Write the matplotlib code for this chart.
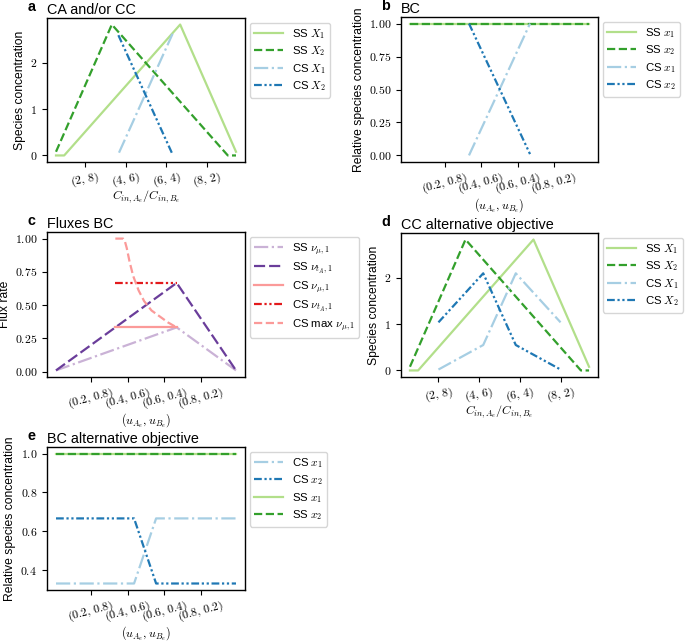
"""Five-panel species / flux comparison figure (SS vs CS)."""

import matplotlib

matplotlib.use("Agg")

import matplotlib.pyplot as plt
from matplotlib.ticker import FuncFormatter

plt.rcParams["font.family"] = ["Liberation Sans", "DejaVu Sans"]
plt.rcParams["mathtext.fontset"] = "cm"
plt.rcParams["axes.linewidth"] = 1.0

# Colours (Paired palette)
LIGHT_GREEN = "#b2df8a"
GREEN = "#33a02c"
LIGHT_BLUE = "#a6cee3"
BLUE = "#1f78b4"
PINK = "#fb9a99"
RED = "#e31a1c"
LIGHT_PURPLE = "#cab2d6"
PURPLE = "#6a3d9a"

DASH_DOT_DOT = (0, (3.5, 1.2, 1, 1.2, 1, 1.2))

# ---- panel a / d : concentration ratio axis ----
c_ticks = [2, 4, 6, 8]
c_ticklabels = [r"$(2,\,8)$", r"$(4,\,6)$", r"$(6,\,4)$", r"$(8,\,2)$"]

ss_X1_x = [0.6, 1.0, 6.67, 9.4]
ss_X1_y = [0.0, 0.0, 2.83, 0.08]
ss_X2_x = [0.6, 3.33, 9.0, 9.4]
ss_X2_y = [0.08, 2.83, 0.0, 0.0]

a_cs_X1_x = [3.68, 6.3]
a_cs_X1_y = [0.06, 2.63]
a_cs_X2_x = [3.65, 6.27]
a_cs_X2_y = [2.6, 0.05]

d_cs_X1_x = [2.0, 4.2, 5.8, 8.0]
d_cs_X1_y = [0.02, 0.55, 2.1, 1.04]
d_cs_X2_x = [2.0, 4.2, 5.8, 8.0]
d_cs_X2_y = [1.04, 2.1, 0.55, 0.02]

# ---- panel b / c / e : uptake axis ----
u_ticks = [0.2, 0.4, 0.6, 0.8]
u_ticklabels = [r"$(0.2,\,0.8)$", r"$(0.4,\,0.6)$", r"$(0.6,\,0.4)$", r"$(0.8,\,0.2)$"]

u_full = [0.01, 0.99]
b_ss_x1 = [1.0, 1.0]
b_ss_x2 = [1.0, 1.0]
b_cs_x = [0.333, 0.667]
b_cs_x1 = [0.0, 1.0]
b_cs_x2 = [1.0, 0.01]

c_ss_x = [0.01, 0.667, 0.99]
c_ss_nu_mu = [0.01, 0.333, 0.01]
c_ss_nu_tA = [0.01, 0.667, 0.01]
c_cs_x = [0.333, 0.667]
c_cs_nu_mu = [0.333, 0.333]
c_cs_nu_tA = [0.667, 0.667]
c_cs_max_x = [0.333, 0.375, 0.385, 0.395, 0.41, 0.43, 0.46, 0.49, 0.53, 0.58, 0.62, 0.667]
c_cs_max_y = [1.0, 1.0, 0.98, 0.93, 0.83, 0.72, 0.61, 0.53, 0.46, 0.41, 0.37, 0.333]

e_cs_x = [0.01, 0.435, 0.555, 0.99]
e_cs_x1 = [0.333, 0.333, 0.667, 0.667]
e_cs_x2 = [0.667, 0.667, 0.333, 0.333]
e_ss_x1 = [1.0, 1.0]
e_ss_x2 = [1.0, 1.0]

LW = 1.6
FS_TICK = 8.5
FS_LABEL = 8.7
FS_LEGEND = 8.2
FS_TITLE = 10.4


def style_axis(ax, letter, title, ticks, ticklabels, xlabel, ylabel, rot, yfmt):
    ax.set_xticks(ticks)
    ax.set_xticklabels(ticklabels, rotation=rot, fontsize=FS_TICK)
    ax.yaxis.set_major_formatter(FuncFormatter(lambda v, p: "$" + yfmt.format(v) + "$"))
    ax.tick_params(axis="y", labelsize=FS_TICK)
    ax.tick_params(axis="x", pad=2.5)
    ax.set_xlabel(xlabel, fontsize=FS_LABEL, labelpad=-1)
    ax.set_ylabel(ylabel, fontsize=FS_LABEL, labelpad=3)
    ax.set_title(title, loc="left", fontsize=FS_TITLE, pad=3)
    ax.annotate(letter, xy=(0, 1), xycoords="axes fraction", xytext=(-14, 3),
                textcoords="offset points", fontsize=FS_TITLE, fontweight="bold",
                ha="left", va="bottom")
    ax.legend(loc="upper left", bbox_to_anchor=(1.0, 1.0), fontsize=FS_LEGEND,
              handlelength=2.5, labelspacing=0.3, borderaxespad=0.4)


fig = plt.figure(figsize=(6.85, 6.43), dpi=100)
W, H = 685, 643


def add_axes(left, top, width, height):
    return fig.add_axes([left / W, 1 - (top + height) / H, width / W, height / H])


ax_a = add_axes(47, 18, 198, 144)
ax_b = add_axes(401, 17, 197, 145)
ax_c = add_axes(47, 232, 198, 145)
ax_d = add_axes(401, 233, 197, 144)
ax_e = add_axes(47, 447, 198, 143)

# a
ax_a.plot(ss_X1_x, ss_X1_y, color=LIGHT_GREEN, lw=LW, ls="-", label="SS $X_1$")
ax_a.plot(ss_X2_x, ss_X2_y, color=GREEN, lw=LW, ls="--", label="SS $X_2$")
ax_a.plot(a_cs_X1_x, a_cs_X1_y, color=LIGHT_BLUE, lw=LW, ls="-.", label="CS $X_1$")
ax_a.plot(a_cs_X2_x, a_cs_X2_y, color=BLUE, lw=LW, ls=DASH_DOT_DOT, label="CS $X_2$")
ax_a.set_yticks([0, 1, 2])
style_axis(ax_a, "a", "CA and/or CC", c_ticks, c_ticklabels,
           "$C_{in,A_e}/C_{in,B_e}$", "Species concentration", 10, "{:.0f}")

# b
ax_b.plot(u_full, b_ss_x1, color=LIGHT_GREEN, lw=LW, ls="-", label="SS $x_1$")
ax_b.plot(u_full, b_ss_x2, color=GREEN, lw=LW, ls="--", label="SS $x_2$")
ax_b.plot(b_cs_x, b_cs_x1, color=LIGHT_BLUE, lw=LW, ls="-.", label="CS $x_1$")
ax_b.plot(b_cs_x, b_cs_x2, color=BLUE, lw=LW, ls=DASH_DOT_DOT, label="CS $x_2$")
ax_b.set_yticks([0, 0.25, 0.5, 0.75, 1.0])
style_axis(ax_b, "b", "BC", u_ticks, u_ticklabels,
           "$(u_{A_e}, u_{B_e})$", "Relative species concentration", 15, "{:.2f}")

# c
ax_c.plot(c_ss_x, c_ss_nu_mu, color=LIGHT_PURPLE, lw=LW, ls="-.", label=r"SS $\nu_{\mu,1}$")
ax_c.plot(c_ss_x, c_ss_nu_tA, color=PURPLE, lw=LW, ls=(0, (5, 1.8)), label=r"SS $\nu_{t_A,1}$")
ax_c.plot(c_cs_x, c_cs_nu_mu, color=PINK, lw=LW, ls="-", label=r"CS $\nu_{\mu,1}$")
ax_c.plot(c_cs_x, c_cs_nu_tA, color=RED, lw=LW, ls=DASH_DOT_DOT, label=r"CS $\nu_{t_A,1}$")
ax_c.plot(c_cs_max_x, c_cs_max_y, color=PINK, lw=LW, ls="--", label=r"CS max $\nu_{\mu,1}$")
ax_c.set_yticks([0, 0.25, 0.5, 0.75, 1.0])
style_axis(ax_c, "c", "Fluxes BC", u_ticks, u_ticklabels,
           "$(u_{A_e}, u_{B_e})$", "Flux rate", 15, "{:.2f}")

# d
ax_d.plot(ss_X1_x, ss_X1_y, color=LIGHT_GREEN, lw=LW, ls="-", label="SS $X_1$")
ax_d.plot(ss_X2_x, ss_X2_y, color=GREEN, lw=LW, ls="--", label="SS $X_2$")
ax_d.plot(d_cs_X1_x, d_cs_X1_y, color=LIGHT_BLUE, lw=LW, ls="-.", label="CS $X_1$")
ax_d.plot(d_cs_X2_x, d_cs_X2_y, color=BLUE, lw=LW, ls=DASH_DOT_DOT, label="CS $X_2$")
ax_d.set_yticks([0, 1, 2])
style_axis(ax_d, "d", "CC alternative objective", c_ticks, c_ticklabels,
           "$C_{in,A_e}/C_{in,B_e}$", "Species concentration", 10, "{:.0f}")

# e
ax_e.plot(e_cs_x, e_cs_x1, color=LIGHT_BLUE, lw=LW, ls="-.", label="CS $x_1$")
ax_e.plot(e_cs_x, e_cs_x2, color=BLUE, lw=LW, ls=DASH_DOT_DOT, label="CS $x_2$")
ax_e.plot(u_full, e_ss_x1, color=LIGHT_GREEN, lw=LW, ls="-", label="SS $x_1$")
ax_e.plot(u_full, e_ss_x2, color=GREEN, lw=LW, ls="--", label="SS $x_2$")
ax_e.set_yticks([0.4, 0.6, 0.8, 1.0])
style_axis(ax_e, "e", "BC alternative objective", u_ticks, u_ticklabels,
           "$(u_{A_e}, u_{B_e})$", "Relative species concentration", 15, "{:.1f}")

fig.savefig("out.png", dpi=100)
